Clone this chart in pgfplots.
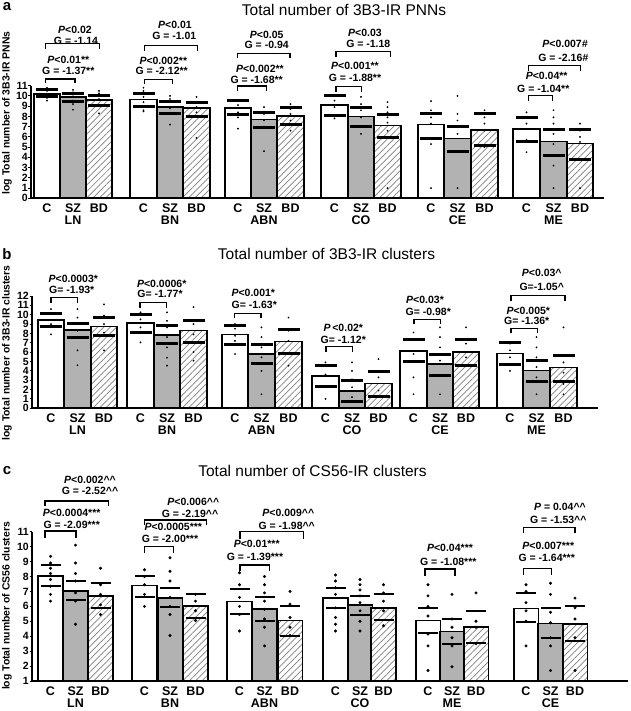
\documentclass[border=0pt]{standalone}
\usepackage{fontspec}
\setmainfont{Liberation Sans}
\usepackage{pgfplots}
\pgfplotsset{compat=1.18}
\usepackage{pgfplotstable}
\usetikzlibrary{patterns.meta}

% ---------- panel a ----------
\pgfplotstableread{
x m hi lo
47 10.2 10.6 9.95
143.5 9.65 10.2 9.0
238 8.8 9.6 8.15
334.5 9.1 10.0 8.1
431 7.2 8.3 5.85
526.5 6.8 7.9 5.5
}\aC
\pgfplotstableread{
x m hi lo
73 9.9 10.25 9.45
170 8.9 9.5 8.3
264 7.7 8.4 6.9
361 8.0 8.9 7.05
457.5 5.85 7.05 4.55
553.5 5.55 6.7 4.2
}\aS
\pgfplotstableread{
x m hi lo
99 9.6 10.0 9.1
196.5 8.8 9.35 8.0
290.5 8.05 8.85 7.2
387.5 7.1 8.15 5.95
484.5 6.7 8.25 5.15
580 5.35 6.75 3.75
}\aB
\pgfplotstableread[row sep=\\]{x y\\
47 10.8\\47 10.5\\47 10.2\\47 10.0\\47 9.8\\47 9.55\\
73 10.6\\73 10.35\\73 9.95\\73 9.55\\73 9.2\\73 8.65\\
99 10.5\\99 10.25\\99 10.0\\99 9.7\\99 9.15\\99 8.3\\
143.5 10.8\\143.5 10.5\\143.5 9.9\\143.5 9.4\\143.5 9.0\\143.5 8.6\\143.5 8.5\\
170 10.0\\170 9.7\\170 9.4\\170 8.8\\170 8.3\\170 7.2\\
196.5 9.9\\196.5 9.4\\196.5 8.9\\196.5 8.4\\196.5 5.9\\
238 9.6\\238 9.1\\238 8.4\\238 7.9\\238 6.8\\
264 8.9\\264 8.25\\264 7.6\\264 7.0\\264 4.6\\
290.5 9.2\\290.5 8.7\\290.5 8.25\\290.5 7.6\\290.5 6.6\\
334.5 10.0\\334.5 9.55\\334.5 8.9\\334.5 8.1\\334.5 7.8\\
361 9.9\\361 9.2\\361 8.6\\361 7.9\\361 7.0\\361 6.3\\
387.5 9.4\\387.5 8.9\\387.5 8.4\\387.5 7.9\\387.5 7.4\\387.5 6.6\\387.5 1.0\\
431 9.5\\431 8.6\\431 7.9\\431 7.3\\431 5.3\\431 1.0\\
457.5 10.0\\457.5 8.25\\457.5 7.6\\457.5 7.0\\457.5 6.3\\457.5 1.0\\
484.5 8.6\\484.5 7.9\\484.5 7.3\\484.5 6.6\\484.5 5.0\\
526.5 8.4\\526.5 7.9\\526.5 7.3\\526.5 5.7\\526.5 4.5\\
553.5 8.6\\553.5 7.9\\553.5 7.3\\553.5 6.3\\553.5 5.3\\553.5 3.2\\553.5 1.0\\
580 7.3\\580 6.6\\580 6.0\\580 5.5\\580 1.0\\
}\aD

% ---------- panel b ----------
\pgfplotstableread{
x m hi lo
51 9.4 10.1 8.7
140.5 9.1 10.0 8.1
235 7.9 8.9 6.85
325.5 3.45 4.6 2.3
413.5 6.15 7.38 4.95
510 5.87 7.0 4.7
}\bC
\pgfplotstableread{
x m hi lo
77.5 8.4 9.1 7.6
167 7.85 8.8 6.9
261.5 5.8 6.8 4.75
352 1.85 2.95 0.7
440 4.7 5.75 3.5
536.5 4.05 5.12 2.9
}\bS
\pgfplotstableread{
x m hi lo
104 8.75 9.65 7.8
193.5 8.3 9.4 7.0
288.5 7.15 8.45 5.85
378.5 2.65 3.95 1.3
466 6.0 7.4 4.6
563.5 4.35 5.65 2.85
}\bB
\pgfplotstableread[row sep=\\]{x y\\
51 10.6\\51 10.1\\51 9.0\\51 7.9\\
77.5 10.6\\77.5 9.7\\77.5 9.0\\77.5 8.3\\77.5 6.2\\77.5 4.6\\
104 11.1\\104 9.9\\104 9.0\\104 8.1\\104 6.2\\
140.5 10.25\\140.5 9.5\\140.5 8.65\\140.5 7.05\\
167 10.25\\167 9.35\\167 8.65\\167 7.6\\167 6.5\\167 5.4\\167 4.55\\
193.5 10.8\\193.5 9.0\\193.5 7.9\\193.5 6.0\\193.5 5.1\\
235 9.0\\235 8.5\\235 7.75\\235 7.2\\235 5.8\\
261.5 8.65\\261.5 7.6\\261.5 6.5\\261.5 5.45\\261.5 4.0\\261.5 1.5\\
288.5 9.7\\288.5 8.3\\288.5 7.2\\288.5 5.8\\288.5 4.55\\
325.5 4.9\\325.5 3.6\\325.5 2.25\\325.5 1.0\\
352 4.9\\352 4.0\\352 3.1\\352 2.25\\352 1.2\\352 0.65\\
378.5 5.25\\378.5 3.3\\378.5 1.9\\378.5 1.2\\
413.5 8.1\\413.5 7.4\\413.5 5.8\\413.5 3.3\\413.5 1.5\\
440 8.65\\440 7.6\\440 6.5\\440 5.1\\440 1.5\\
466 8.65\\466 6.9\\466 5.45\\466 4.55\\
510 6.9\\510 6.2\\510 5.45\\510 4.0\\
536.5 7.6\\536.5 6.5\\536.5 5.45\\536.5 4.4\\536.5 3.3\\536.5 1.5\\
563.5 8.65\\563.5 4.9\\563.5 3.8\\563.5 2.6\\563.5 1.5\\
}\bD

% ---------- panel c ----------
\pgfplotstableread{
x m hi lo
50.5 8.05 8.75 7.35
144.5 7.4 8.0 6.65
239.5 6.33 7.13 5.5
335.5 6.55 7.22 5.9
428 5.05 5.92 4.2
526 5.85 6.88 4.92
}\cC
\pgfplotstableread{
x m hi lo
75.5 7.05 7.72 6.42
170 6.55 7.25 5.95
264.5 5.8 6.62 5.0
360 6.1 6.72 5.45
452 4.32 5.18 3.5
550.5 4.85 5.88 3.9
}\cS
\pgfplotstableread{
x m hi lo
100.5 6.7 7.57 5.87
195.5 6.02 6.82 5.2
290 5.05 6.0 4.0
383.5 5.9 6.8 5.1
476 4.62 5.72 3.55
575 4.8 6.05 3.65
}\cB
\pgfplotstableread[row sep=\\]{x y\\
50.5 9.35\\50.5 8.9\\50.5 8.55\\50.5 8.2\\50.5 7.8\\50.5 7.35\\50.5 6.8\\50.5 6.35\\
75.5 10.1\\75.5 8.9\\75.5 8.2\\75.5 7.7\\75.5 6.9\\75.5 6.35\\75.5 4.8\\
100.5 8.55\\100.5 7.45\\100.5 6.8\\100.5 6.1\\100.5 5.45\\
144.5 8.45\\144.5 8.0\\144.5 7.45\\144.5 6.8\\144.5 6.0\\
170 9.25\\170 8.35\\170 7.7\\170 6.6\\170 6.0\\170 5.45\\170 4.05\\
195.5 6.8\\195.5 6.35\\195.5 5.7\\195.5 5.05\\
239.5 8.25\\239.5 7.45\\239.5 6.6\\239.5 6.0\\239.5 5.45\\239.5 4.35\\
264.5 8.0\\264.5 7.45\\264.5 6.9\\264.5 6.35\\264.5 5.8\\264.5 5.15\\264.5 4.6\\264.5 3.35\\
290 7.0\\290 6.15\\290 5.25\\290 4.6\\290 4.05\\
335.5 8.1\\335.5 7.7\\335.5 7.25\\335.5 6.8\\335.5 5.9\\335.5 5.25\\335.5 4.8\\335.5 4.35\\
360 7.8\\360 7.45\\360 7.1\\360 6.7\\360 6.25\\360 5.7\\360 5.0\\360 4.35\\
383.5 7.45\\383.5 6.9\\383.5 6.35\\383.5 5.7\\383.5 4.7\\
428 7.45\\428 6.7\\428 6.0\\428 5.35\\428 4.15\\428 3.35\\428 1.7\\
452 6.8\\452 5.15\\452 4.6\\452 3.9\\452 3.35\\452 1.95\\
476 6.9\\476 5.0\\476 4.6\\476 3.5\\
526 7.45\\526 7.0\\526 6.25\\526 5.7\\526 5.0\\526 3.35\\
550.5 7.55\\550.5 6.8\\550.5 5.6\\550.5 4.9\\550.5 3.9\\550.5 3.35\\550.5 1.7\\
575 6.55\\575 5.9\\575 5.15\\575 3.9\\575 1.7\\
}\cD

\pgfplotsset{
  panel/.style={
    scale only axis, anchor=south west, clip mode=individual,
    axis x line*=bottom, axis y line*=left,
    x axis line style={line width=1.8pt, black},
    y axis line style={line width=1.1pt, black},
    tick align=outside, major tick length=2.5pt,
    ytick style={line width=0.9pt, black},
    xtick style={draw=none},
    /pgf/number format/assume math mode=true,
    yticklabel style={font=\bfseries\fontsize{10.5}{10.5}\selectfont, inner sep=0.6pt},
    xticklabel style={font=\bfseries\fontsize{12.5}{11.6}\selectfont, align=center, inner sep=0pt, yshift=-3pt},
  },
}
\tikzset{
  br/.style={line width=1.3pt, black},
  ann/.style={font=\bfseries\fontsize{10.5}{10.5}\selectfont, inner sep=0pt},
}
\newcommand{\brk}[4]{\draw[br] (axis cs:#1,#3) |- (axis cs:#2,#4) -- (axis cs:#2,#3);}
\newcommand{\ann}[3]{\node[ann] at (axis cs:#1,#2) {#3};}
\newcommand{\Pv}{\textit{P}}
% #1 C table, #2 SZ table, #3 BD table, #4 dots, #5 bar width, #6 mark half length, #7 mark thickness, #8 dot size
\newcommand{\panelplots}[8]{%
  \addplot[ybar, bar shift=0pt, bar width=#5, fill=white, draw=black, line width=1.7pt] table[x=x,y=m]{#1};
  \addplot[ybar, bar shift=0pt, bar width=#5, fill=black!30, draw=black, line width=1.7pt] table[x=x,y=m]{#2};
  \addplot[ybar, bar shift=0pt, bar width=#5, preaction={fill=white}, pattern={Lines[angle=45,distance=4.5pt,line width=0.7pt]}, pattern color=black!50, draw=black, line width=1.7pt] table[x=x,y=m]{#3};
  \addplot[only marks, black, mark=*, mark size=#8] table[x=x,y=y]{#4};
  \addplot[only marks, mark=-, mark size=#6, mark options={line width=#7, black}] table[x=x,y=hi]{#1};
  \addplot[only marks, mark=-, mark size=#6, mark options={line width=#7, black}] table[x=x,y=lo]{#1};
  \addplot[only marks, mark=-, mark size=#6, mark options={line width=#7, black}] table[x=x,y=hi]{#2};
  \addplot[only marks, mark=-, mark size=#6, mark options={line width=#7, black}] table[x=x,y=lo]{#2};
  \addplot[only marks, mark=-, mark size=#6, mark options={line width=#7, black}] table[x=x,y=hi]{#3};
  \addplot[only marks, mark=-, mark size=#6, mark options={line width=#7, black}] table[x=x,y=lo]{#3};
}

\begin{document}
\begin{tikzpicture}
\useasboundingbox (0,0) rectangle (630pt,711pt);

% ================= panel a =================
\begin{axis}[panel, at={(31pt,512.7pt)}, width=573pt, height=112.6pt,
  xmin=31, xmax=604, ymin=0, ymax=11, ytick={0,...,11},
  xtick={47,73,99,143.5,170,196.5,238,264,290.5,334.5,361,387.5,431,457.5,484.5,526.5,553.5,580},
  xticklabels={C,SZ\\LN,BD,C,SZ\\BN,BD,C,SZ\\ABN,BD,C,SZ\\CO,BD,C,SZ\\CE,BD,C,SZ\\ME,BD}]
\panelplots{\aC}{\aS}{\aB}{\aD}{26.5}{11pt}{3pt}{0.7pt}
\brk{45.5}{75}{11.23}{11.65}
\ann{68.3}{13.5}{\Pv<0.01**}
\ann{68.3}{12.46}{G = -1.37**}
\brk{45.5}{99.3}{14.58}{15.14}
\ann{75}{16.5}{\Pv<0.02}
\ann{76}{15.4}{G = -1.14}
\brk{144.3}{172.3}{11.16}{11.62}
\ann{163.3}{13.4}{\Pv<0.002**}
\ann{161.7}{12.4}{G = -2.12**}
\brk{144.3}{197.7}{14.42}{14.9}
\ann{175}{16.9}{\Pv<0.01}
\ann{174.3}{15.9}{G = -1.01}
\brk{237.7}{266.7}{10.48}{10.97}
\ann{260}{12.63}{\Pv<0.002**}
\ann{256.7}{11.55}{G = -1.68**}
\brk{237.7}{290}{13.67}{14.16}
\ann{266.7}{16.0}{\Pv<0.05}
\ann{266.7}{14.97}{G = -0.94}
\brk{336}{361.7}{10.41}{10.9}
\ann{355}{12.92}{\Pv<0.001**}
\ann{355}{11.72}{G = -1.88**}
\brk{336}{390.7}{13.83}{14.32}
\ann{365}{16.2}{\Pv<0.03}
\ann{368.3}{15.13}{G = -1.18}
\brk{528.3}{552.7}{9.5}{10.02}
\ann{546.7}{11.94}{\Pv<0.04**}
\ann{543.3}{10.64}{G = -1.04**}
\brk{528.3}{580.7}{12.46}{12.95}
\ann{565}{15.04}{\Pv<0.007\textit{\#}}
\ann{563.3}{13.67}{G = -2.16\textit{\#}}
\end{axis}

% ================= panel b =================
\begin{axis}[panel, at={(32pt,302.7pt)}, width=566pt, height=112.3pt,
  xmin=32, xmax=598, ymin=0, ymax=12, ytick={0,...,12},
  xtick={51,77.5,104,140.5,167,193.5,235,261.5,288.5,325.5,352,378.5,413.5,440,466,510,536.5,563.5},
  xticklabels={C,SZ\\LN,BD,C,SZ\\BN,BD,C,SZ\\ABN,BD,C,SZ\\CO,BD,C,SZ\\CE,BD,C,SZ\\ME,BD}]
\panelplots{\bC}{\bS}{\bB}{\bD}{26.5}{11pt}{3pt}{0.7pt}
\brk{51}{77.7}{11.28}{11.82}
\ann{73.3}{13.8}{\Pv<0.0003*}
\ann{71.7}{12.7}{G= -1.93*}
\brk{140}{166.7}{10.75}{11.28}
\ann{161.7}{13.28}{\Pv<0.0006*}
\ann{160}{12.18}{G= -1.77*}
\brk{234.3}{261}{9.62}{10.15}
\ann{253.3}{12.29}{\Pv<0.001*}
\ann{254.3}{11.0}{G= -1.63*}
\brk{326}{352.7}{6.05}{6.58}
\ann{343.3}{8.55}{\Pv\,<0.02*}
\ann{343.3}{7.3}{G= -1.12*}
\brk{414}{440.7}{8.97}{9.5}
\ann{425}{11.57}{\Pv<0.03*}
\ann{428.3}{10.32}{G= -0.98*}
\brk{511}{537.7}{8.0}{8.55}
\ann{528.3}{10.4}{\Pv<0.005*}
\ann{526.7}{9.33}{G= -1.36*}
\brk{511}{565}{11.46}{12.03}
\ann{541.7}{14.42}{\Pv<0.03\textasciicircum}
\ann{541.7}{12.93}{G=-1.05\textasciicircum}
\end{axis}

% ================= panel c =================
\begin{axis}[panel, at={(32pt,30pt)}, width=596pt, height=149.3pt,
  xmin=32, xmax=628, ymin=1, ymax=11, ytick={1,...,11},
  xtick={50.5,75.5,100.5,144.5,170,195.5,239.5,264.5,290,335.5,360,383.5,428,452,476,526,550.5,575},
  xticklabels={C,SZ\\LN,BD,C,SZ\\BN,BD,C,SZ\\ABN,BD,C,SZ\\CO,BD,C,SZ\\ME,BD,C,SZ\\CE,BD}]
\panelplots{\cC}{\cS}{\cB}{\cD}{24.7}{10pt}{2pt}{1.3pt}
\brk{45}{76}{10.6}{11.05}
\ann{71.7}{12.23}{\Pv<0.0004***}
\ann{71.7}{11.45}{G = -2.09***}
\brk{45}{108.3}{12.74}{13.06}
\ann{90}{14.46}{\Pv<0.002\textasciicircum\textasciicircum}
\ann{90}{13.73}{G = -2.52\textasciicircum\textasciicircum}
\brk{144.3}{173.3}{9.55}{10.0}
\ann{173.3}{11.29}{\Pv<0.0005***}
\ann{170}{10.51}{G = -2.00***}
\brk{144.3}{206.7}{11.45}{11.78}
\ann{193.3}{12.97}{\Pv<0.006\textasciicircum\textasciicircum}
\ann{190}{12.17}{G = -2.19\textasciicircum\textasciicircum}
\brk{240}{269.3}{8.37}{8.77}
\ann{256.7}{10.18}{\Pv<0.01***}
\ann{255}{9.33}{G = -1.39***}
\brk{240}{303.3}{10.51}{11.0}
\ann{288.3}{12.23}{\Pv<0.009\textasciicircum\textasciicircum}
\ann{286.7}{11.4}{G = -1.98\textasciicircum\textasciicircum}
\brk{425}{455}{8.03}{8.5}
\ann{450}{9.93}{\Pv<0.04***}
\ann{448.3}{8.99}{G = -1.08***}
\brk{523.3}{551.7}{8.1}{8.55}
\ann{548.3}{10.04}{\Pv<0.007***}
\ann{546.7}{9.22}{G = -1.64***}
\brk{523.3}{575}{10.89}{11.29}
\ann{560}{12.67}{\Pv\ = 0.04\textasciicircum\textasciicircum}
\ann{558.3}{11.78}{G = -1.53\textasciicircum\textasciicircum}
\end{axis}

% ----- titles, panel letters, y labels -----
\node[font=\fontsize{15.5}{15.5}\selectfont] at (344pt,701pt) {Total number of 3B3-IR PNNs};
\node[font=\fontsize{15.5}{15.5}\selectfont] at (326.5pt,457pt) {Total number of 3B3-IR clusters};
\node[font=\fontsize{15.5}{15.5}\selectfont] at (312.5pt,240pt) {Total number of CS56-IR clusters};
\node[font=\bfseries\fontsize{15}{15}\selectfont] at (7pt,704pt) {a};
\node[font=\bfseries\fontsize{15}{15}\selectfont] at (7pt,457pt) {b};
\node[font=\bfseries\fontsize{15}{15}\selectfont] at (7pt,240pt) {c};
\node[rotate=90, font=\bfseries\fontsize{10.4}{10.4}\selectfont] at (7pt,598pt) {log Total number of 3B3-IR PNNs};
\node[rotate=90, font=\bfseries\fontsize{10.4}{10.4}\selectfont] at (7pt,358pt) {log Total number of 3B3-IR clusters};
\node[rotate=90, font=\bfseries\fontsize{10.4}{10.4}\selectfont] at (7pt,105pt) {log Total number of CS56 clusters};
\end{tikzpicture}
\end{document}
